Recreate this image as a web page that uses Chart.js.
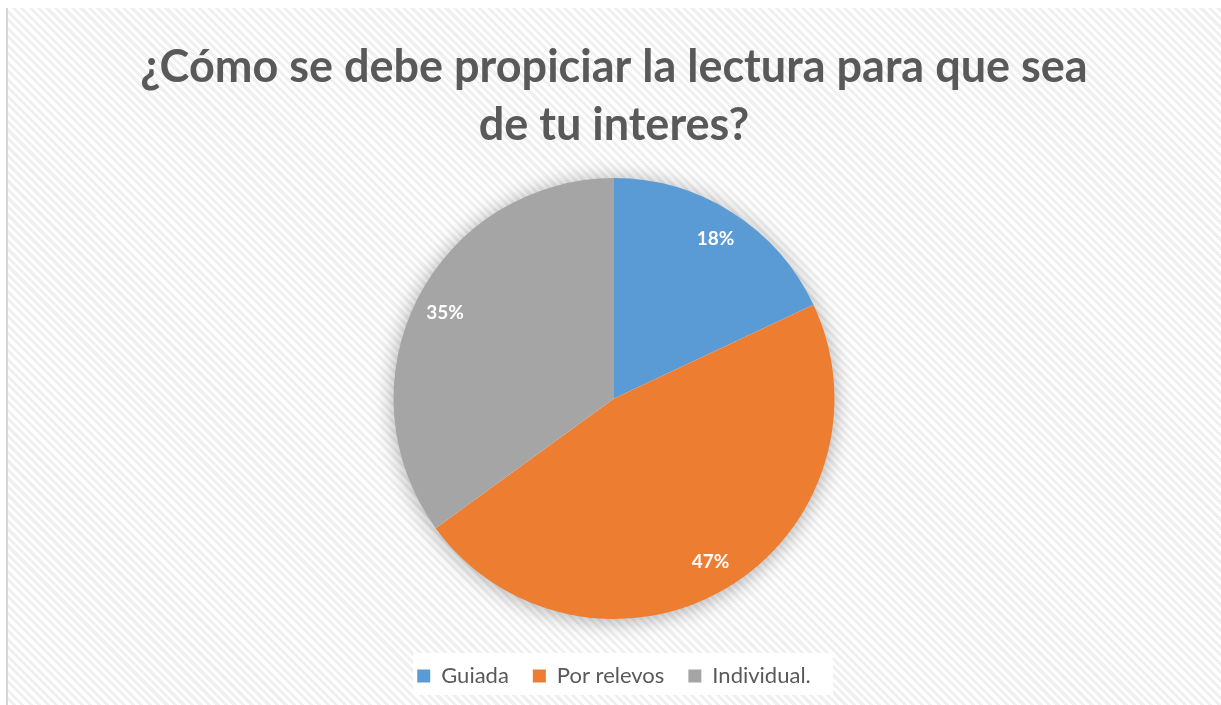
<!DOCTYPE html>
<html>
<head>
<meta charset="utf-8">
<script src="https://cdn.jsdelivr.net/npm/chart.js@4"></script>
<style>
  html, body { margin: 0; padding: 0; background: #ffffff; }
  #wrap { position: absolute; left: 0; top: 0; width: 1221px; height: 705px; overflow: hidden; }
  #frame {
    position: absolute; left: 6px; top: 8px; width: 1215px; height: 697px;
    border-left: 2px solid #d6d6d6; box-sizing: border-box;
    background: repeating-linear-gradient(45deg, #ffffff 0px, #ffffff 3px, #f0f0f0 3px, #f0f0f0 6px);
  }
  #c { position: absolute; left: 0; top: 0; }
</style>
</head>
<body>
<div id="wrap">
  <div id="frame"></div>
  <canvas id="c" width="1221" height="705"></canvas>
</div>
<script>
const titleLines = ['¿Cómo se debe propiciar la lectura para que sea', 'de tu interes?'];
const categories = ['Guiada', 'Por relevos', 'Individual.'];
const values = [18, 47, 35];
const colors = ['#5B9BD5', '#ED7D31', '#A5A5A5'];

const shadowPlugin = {
  id: 'pieShadow',
  beforeDatasetsDraw(chart) {
    const arc = chart.getDatasetMeta(0).data[0];
    if (!arc) return;
    const ctx = chart.ctx;
    ctx.save();
    ctx.shadowColor = 'rgba(0,0,0,0.35)';
    ctx.shadowBlur = 22;
    ctx.shadowOffsetX = 0;
    ctx.shadowOffsetY = 2;
    ctx.beginPath();
    ctx.arc(arc.x, arc.y, arc.outerRadius - 1, 0, Math.PI * 2);
    ctx.fillStyle = '#ffffff';
    ctx.fill();
    ctx.restore();
  }
};

const labelPlugin = {
  id: 'pieLabels',
  afterDatasetsDraw(chart) {
    const ctx = chart.ctx;
    const meta = chart.getDatasetMeta(0);
    ctx.save();
    ctx.font = 'bold 19px Lato';
    ctx.fillStyle = '#ffffff';
    ctx.textAlign = 'center';
    ctx.textBaseline = 'middle';
    meta.data.forEach((arc, i) => {
      const mid = (arc.startAngle + arc.endAngle) / 2;
      const r = arc.outerRadius * 0.86;
      ctx.fillText(values[i] + '%', arc.x + Math.cos(mid) * r, arc.y + Math.sin(mid) * r);
    });
    ctx.restore();
  }
};

const legendBgPlugin = {
  id: 'legendBg',
  beforeDraw(chart) {
    const lg = chart.legend;
    if (!lg || !lg.legendHitBoxes || !lg.legendHitBoxes.length) return;
    const hb = lg.legendHitBoxes;
    let x0 = Infinity, x1 = -Infinity, y0 = Infinity, y1 = -Infinity;
    hb.forEach(b => {
      x0 = Math.min(x0, b.left); x1 = Math.max(x1, b.left + b.width);
      y0 = Math.min(y0, b.top); y1 = Math.max(y1, b.top + b.height);
    });
    const ctx = chart.ctx;
    ctx.save();
    ctx.fillStyle = '#ffffff';
    ctx.fillRect(x0 - 4, y0 - 12, (x1 - x0) + 26, (y1 - y0) + 20);
    ctx.restore();
  }
};

new Chart(document.getElementById('c'), {
  type: 'pie',
  data: {
    labels: categories,
    datasets: [{
      data: values,
      backgroundColor: colors,
      borderWidth: 0
    }]
  },
  options: {
    responsive: false,
    animation: false,
    layout: { padding: { left: 7, right: 0, top: 9, bottom: 8 } },
    plugins: {
      tooltip: { enabled: false },
      title: {
        display: true,
        text: titleLines,
        color: '#595959',
        font: { family: 'Lato', size: 45, weight: 'bold', lineHeight: 1.29 },
        padding: { top: 29, bottom: 24 }
      },
      legend: {
        display: true,
        position: 'bottom',
        title: {
          display: true,
          text: '',
          font: { size: 1, lineHeight: 1 },
          padding: { top: 21, bottom: 0 }
        },
        labels: {
          color: '#595959',
          font: { family: 'Lato', size: 22 },
          boxWidth: 13,
          boxHeight: 13,
          padding: 24
        }
      }
    }
  },
  plugins: [legendBgPlugin, shadowPlugin, labelPlugin]
});
</script>
</body>
</html>
